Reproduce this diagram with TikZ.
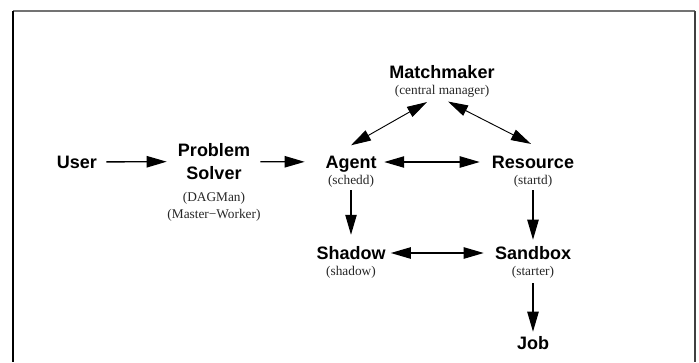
\documentclass[tikz,border=0pt]{standalone}
\usepackage{fontspec}
\setmainfont{Liberation Serif}
\setsansfont{Liberation Sans}
\usepackage{tikz}
\usetikzlibrary{positioning,arrows.meta}

\begin{document}
\begin{tikzpicture}[
  x=0.75pt, y=-0.75pt,
  base/.style={font=\sffamily\bfseries\fontsize{13.5}{17.25}\selectfont, inner sep=0pt},
  comp/.style={base, text height=9.7pt, text depth=0pt},
  sub/.style={font=\fontsize{10}{12.75}\selectfont, inner sep=0pt, align=center, text=black!85},
  tip/.style={-{Triangle[length=15pt,width=8.5pt]}, line width=1pt},
  dbl/.style={{Triangle[length=15pt,width=8.5pt]}-{Triangle[length=15pt,width=8.5pt]}, line width=1pt},
  diag/.style={dbl, line width=0.7pt},
  node distance=5pt
]
  \useasboundingbox (0,0) rectangle (699,362);
  % Frame (open at the bottom)
  \draw[line width=1.2pt, black!55] (13,11) -- (695,11);
  \draw[line width=1.2pt] (13,11) -- (13,362);
  \draw[line width=1.2pt, black!75] (695,11) -- (695,362);

  % Components
  \node[comp] (user) at (77,162) {User};
  \node[base, align=center] (ps) at (214,161.5) {Problem\\Solver};
  \node[comp] (agent) at (351,162) {Agent};
  \node[comp] (resource) at (533,162) {Resource};
  \node[comp] (mm) at (442,72) {Matchmaker};
  \node[comp] (shadow) at (351,253) {Shadow};
  \node[comp] (sandbox) at (533,253) {Sandbox};
  \node[comp] (job) at (533,343) {Job};

  % Daemon names
  \node[sub, below=9.3pt of ps] (pssub) {(DAGMan)\\(Master−Worker)};
  \node[sub, below=of agent] (agentsub) {(schedd)};
  \node[sub, below=of resource] (resourcesub) {(startd)};
  \node[sub, below=of mm] (mmsub) {(central manager)};
  \node[sub, below=of shadow] (shadowsub) {(shadow)};
  \node[sub, below=of sandbox] (sandboxsub) {(starter)};

  % Connectors
  \draw[tip, shorten <=6.75pt, shorten >=8.25pt] (user) -- (ps);
  \draw[tip, shorten <=7.5pt, shorten >=15.4pt] (ps) -- (agent);
  \draw[dbl, shorten <=5.6pt, shorten >=9pt] (agent) -- (resource);
  \draw[diag] ([yshift=7.5pt]agent.north) -- ([xshift=-11.25pt,yshift=-3pt]mmsub.south);
  \draw[diag] ([xshift=4.5pt,yshift=-2.6pt]mmsub.south) -- ([xshift=-1.5pt,yshift=8.5pt]resource.north);
  \draw[tip, shorten <=1.5pt, shorten >=8.6pt] (agentsub) -- (shadow);
  \draw[tip, shorten <=1.5pt, shorten >=4.9pt] (resourcesub) -- (sandbox);
  \draw[dbl, shorten <=3.75pt, shorten >=8.25pt] (shadow) -- (sandbox);
  \draw[tip, shorten <=3pt, shorten >=3.4pt] (sandboxsub) -- (job);
\end{tikzpicture}
\end{document}
